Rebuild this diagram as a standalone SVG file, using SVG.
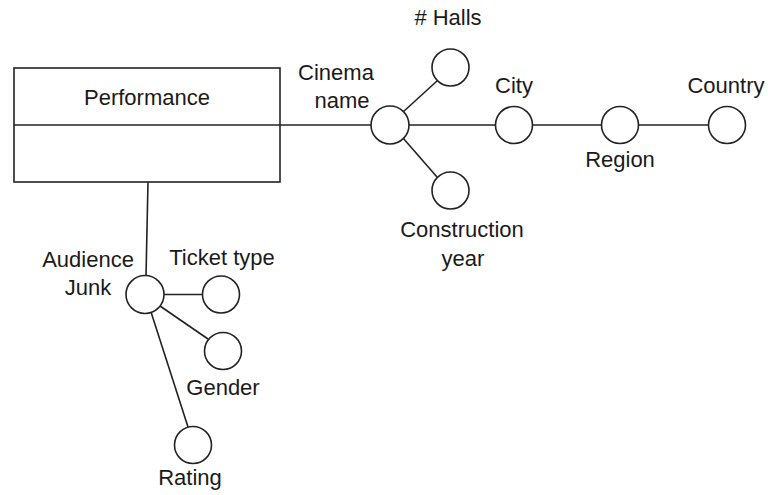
<svg xmlns="http://www.w3.org/2000/svg" width="768" height="495" viewBox="0 0 768 495">
<style>
.n{fill:#fff;stroke:#222;stroke-width:1.6}
.c line{stroke:#222;stroke-width:1.6}
text{font-family:"Liberation Sans",Arial,sans-serif;font-size:22px;fill:#1a1a1a;text-anchor:middle}
</style>
<rect width="768" height="495" fill="#fff"/>
<g class="c" id="connectors">
<line x1="280" y1="125" x2="371" y2="125"/>
<line x1="403" y1="112" x2="437" y2="81"/>
<line x1="403" y1="138" x2="437" y2="177"/>
<line x1="409" y1="125" x2="495" y2="125"/>
<line x1="533" y1="125" x2="601" y2="125"/>
<line x1="639" y1="125" x2="708" y2="125"/>
<line x1="148" y1="182" x2="146" y2="276"/>
<line x1="164" y1="294.5" x2="202" y2="294.5"/>
<line x1="160" y1="306" x2="208" y2="339"/>
<line x1="151" y1="312" x2="188" y2="427"/>
</g>
<g id="performance">
<rect class="n" x="14" y="68" width="266" height="114"/>
<line x1="14" y1="125" x2="280" y2="125" stroke="#222" stroke-width="1.6"/>
<text x="147" y="105">Performance</text>
</g>
<g id="cinema-name"><circle class="n" cx="390" cy="125" r="19"/><text x="336" y="80">Cinema</text><text x="342" y="108">name</text></g>
<g id="halls"><circle class="n" cx="450.5" cy="67.5" r="18.5"/><text x="448" y="25"># Halls</text></g>
<g id="construction-year"><circle class="n" cx="450.5" cy="190.5" r="18.5"/><text x="462" y="237">Construction</text><text x="463" y="266">year</text></g>
<g id="city"><circle class="n" cx="514" cy="125" r="18.5"/><text x="514" y="93">City</text></g>
<g id="region"><circle class="n" cx="620" cy="125" r="18.5"/><text x="620" y="167">Region</text></g>
<g id="country"><circle class="n" cx="727" cy="125" r="18.5"/><text x="726" y="93">Country</text></g>
<g id="audience-junk"><circle class="n" cx="145" cy="294.5" r="19"/><text x="88" y="267">Audience</text><text x="88" y="295">Junk</text></g>
<g id="ticket-type"><circle class="n" cx="221" cy="294.5" r="18.5"/><text x="222" y="265">Ticket type</text></g>
<g id="gender"><circle class="n" cx="223" cy="351" r="18.5"/><text x="223" y="395">Gender</text></g>
<g id="rating"><circle class="n" cx="193" cy="445" r="18.5"/><text x="190" y="485">Rating</text></g>
</svg>
